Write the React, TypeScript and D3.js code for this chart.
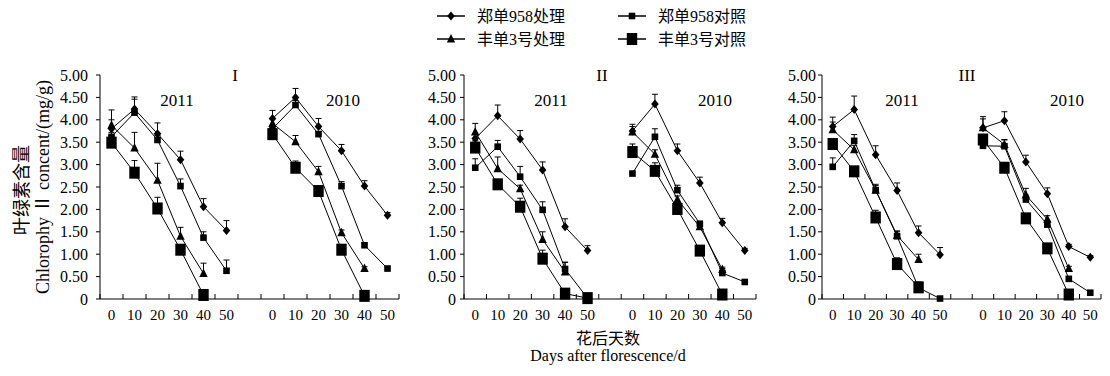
import React from "react";
import * as d3 from "d3";

// ---------- data ----------
const days = ["0", "10", "20", "30", "40", "50"];
const years = ["2011", "2010"];
const panelNames = ["I", "II", "III"];
const seriesNames = ["郑单958处理", "郑单958对照", "丰单3号处理", "丰单3号对照"];
const yTicks = [0, 0.5, 1, 1.5, 2, 2.5, 3, 3.5, 4, 4.5, 5];

// each array: 2011 (0..50 d) then 2010 (0..50 d)
const zdTreat_I = [3.80, 4.24, 3.69, 3.11, 2.06, 1.53, 4.03, 4.50, 3.85, 3.31, 2.52, 1.87];
const zdTreat_I_err = [0.20, 0.27, 0.24, 0.19, 0.18, 0.22, 0.18, 0.20, 0.18, 0.14, 0.12, 0.06];
const zdCtrl_I = [3.62, 4.16, 3.55, 2.52, 1.37, 0.63, 3.80, 4.33, 3.68, 2.52, 1.20, 0.68];
const zdCtrl_I_err = [0.10, 0.30, 0.10, 0.16, 0.13, 0.24, 0.05, 0.10, 0.06, 0.10, 0.03, 0.04];
const fdTreat_I = [3.88, 3.37, 2.65, 1.40, 0.57, null, 3.92, 3.51, 2.84, 1.48, 0.68, null];
const fdTreat_I_err = [0.34, 0.35, 0.38, 0.20, 0.23, null, 0.10, 0.14, 0.12, 0.06, 0.04, null];
const fdCtrl_I = [3.49, 2.82, 2.02, 1.10, 0.09, null, 3.68, 2.93, 2.41, 1.10, 0.07, null];
const fdCtrl_I_err = [0.15, 0.27, 0.25, 0.10, 0.10, null, 0.10, 0.15, 0.05, 0.05, 0.03, null];

const zdTreat_II = [3.58, 4.09, 3.57, 2.88, 1.61, 1.08, 3.75, 4.35, 3.31, 2.59, 1.70, 1.08];
const zdTreat_II_err = [0.10, 0.24, 0.19, 0.18, 0.18, 0.11, 0.10, 0.22, 0.15, 0.13, 0.10, 0.05];
const zdCtrl_II = [2.93, 3.40, 2.73, 1.99, 0.67, 0.02, 2.80, 3.62, 2.43, 1.68, 0.58, 0.38];
const zdCtrl_II_err = [0.20, 0.14, 0.23, 0.18, 0.15, 0.02, 0.03, 0.18, 0.11, 0.05, 0.10, 0.03];
const fdTreat_II = [3.73, 2.91, 2.46, 1.33, 0.60, null, 3.73, 3.23, 2.22, 1.61, 0.66, null];
const fdTreat_II_err = [0.19, 0.26, 0.08, 0.17, 0.22, null, 0.17, 0.10, 0.08, 0.06, 0.05, null];
const fdCtrl_II = [3.38, 2.56, 2.06, 0.90, 0.12, 0.02, 3.28, 2.86, 2.01, 1.08, 0.10, null];
const fdCtrl_II_err = [0.15, 0.05, 0.19, 0.19, 0.08, 0.02, 0.18, 0.18, 0.06, 0.05, 0.05, null];

const zdTreat_III = [3.85, 4.23, 3.22, 2.42, 1.48, 0.99, 3.82, 3.98, 3.06, 2.35, 1.17, 0.93];
const zdTreat_III_err = [0.10, 0.30, 0.20, 0.17, 0.15, 0.16, 0.20, 0.20, 0.15, 0.13, 0.05, 0.04];
const zdCtrl_III = [2.95, 3.53, 2.43, 1.40, 0.25, 0.01, 3.42, 3.41, 2.22, 1.66, 0.45, 0.14];
const zdCtrl_III_err = [0.20, 0.14, 0.13, 0.10, 0.10, 0.02, 0.10, 0.15, 0.10, 0.08, 0.05, 0.04];
const fdTreat_III = [3.78, 3.33, 2.43, 1.42, 0.88, null, 3.82, 3.45, 2.32, 1.78, 0.68, null];
const fdTreat_III_err = [0.28, 0.10, 0.10, 0.10, 0.12, null, 0.25, 0.10, 0.15, 0.08, 0.05, null];
const fdCtrl_III = [3.46, 2.85, 1.82, 0.78, 0.26, null, 3.56, 2.93, 1.80, 1.13, 0.10, null];
const fdCtrl_III_err = [0.12, 0.10, 0.16, 0.14, 0.12, null, 0.10, 0.10, 0.05, 0.05, 0.03, null];

const panelValues = [
  [zdTreat_I, zdCtrl_I, fdTreat_I, fdCtrl_I],
  [zdTreat_II, zdCtrl_II, fdTreat_II, fdCtrl_II],
  [zdTreat_III, zdCtrl_III, fdTreat_III, fdCtrl_III],
];
const panelErrors = [
  [zdTreat_I_err, zdCtrl_I_err, fdTreat_I_err, fdCtrl_I_err],
  [zdTreat_II_err, zdCtrl_II_err, fdTreat_II_err, fdCtrl_II_err],
  [zdTreat_III_err, zdCtrl_III_err, fdTreat_III_err, fdCtrl_III_err],
];

// ---------- layout ----------
const W = 1110;
const H = 376;
const yTop = 75;
const yBottom = 299;
const panelX = [
  { x0: 100, x1: 399, gap: 12, title: 235, y11: 177, y10: 343 },
  { x0: 464, x1: 756, gap: 8, title: 602, y11: 551, y10: 715 },
  { x0: 822, x1: 1101, gap: 6, title: 967, y11: 902, y10: 1067 },
];
const SERIF = '"Liberation Serif", "Times New Roman", "Noto Sans CJK SC", serif';

const categories = [
  ...days.map((d) => "2011-" + d),
  "gap",
  ...days.map((d) => "2010-" + d),
];

function Marker({ kind, x, y }: { kind: number; x: number; y: number }) {
  if (kind === 0) {
    return (
      <path d={`M${x},${y - 4.5}L${x + 3.8},${y}L${x},${y + 4.5}L${x - 3.8},${y}Z`} fill="#000" />
    );
  }
  if (kind === 1) {
    return <rect x={x - 3.3} y={y - 3.3} width={6.6} height={6.6} fill="#000" />;
  }
  if (kind === 2) {
    return <path d={`M${x},${y - 5}L${x + 4.2},${y + 3.5}L${x - 4.2},${y + 3.5}Z`} fill="#000" />;
  }
  return <rect x={x - 5.2} y={y - 6} width={10.4} height={12} fill="#000" />;
}

function Panel({ p }: { p: number }) {
  const L = panelX[p];
  const x = d3.scaleBand<string>().domain(categories).range([L.x0, L.x1]).padding(0);
  const y = d3.scaleLinear().domain([0, 5]).range([yBottom, yTop]);
  const bw = x.bandwidth();
  const cx = (i: number) => {
    const key = i < 6 ? "2011-" + days[i] : "2010-" + days[i - 6];
    return (x(key) as number) + bw / 2;
  };
  const line = d3
    .line<{ i: number; v: number }>()
    .x((d) => cx(d.i))
    .y((d) => y(d.v));

  const boundaries = categories.map((c) => x(c) as number).concat([L.x1]);

  return (
    <g>
      {/* y axis */}
      <line x1={L.x0} x2={L.x0} y1={yTop} y2={yBottom} stroke="#000" strokeWidth={1} />
      {yTicks.map((t) => (
        <g key={t}>
          <line x1={L.x0 - 4} x2={L.x0} y1={y(t)} y2={y(t)} stroke="#000" />
          <text
            x={L.x0 - L.gap}
            y={y(t)}
            textAnchor="end"
            dominantBaseline="central"
            fontSize={16}
            fontFamily={SERIF}
          >
            {t === 0 ? "0" : d3.format(".2f")(t)}
          </text>
        </g>
      ))}
      {/* x axis */}
      <line x1={L.x0} x2={L.x1} y1={yBottom} y2={yBottom} stroke="#000" />
      {boundaries.map((b, i) => (
        <line key={i} x1={b} x2={b} y1={yBottom} y2={yBottom - 5} stroke="#000" />
      ))}
      {categories.map((c) =>
        c === "gap" ? null : (
          <text
            key={c}
            x={(x(c) as number) + bw / 2}
            y={320}
            textAnchor="middle"
            fontSize={15}
            fontFamily={SERIF}
          >
            {c.split("-")[1]}
          </text>
        )
      )}
      {/* titles */}
      <text x={L.title} y={81} textAnchor="middle" fontSize={17} fontFamily={SERIF}>
        {panelNames[p]}
      </text>
      <text x={L.y11} y={106} textAnchor="middle" fontSize={17} fontFamily={SERIF}>
        {years[0]}
      </text>
      <text x={L.y10} y={106} textAnchor="middle" fontSize={17} fontFamily={SERIF}>
        {years[1]}
      </text>
      {/* series */}
      {panelValues[p].map((vals, s) => {
        const errs = panelErrors[p][s];
        const segs = [0, 6].map((start) =>
          vals
            .slice(start, start + 6)
            .map((v, k) => ({ i: start + k, v: v as number }))
            .filter((d) => d.v !== null && d.v !== undefined)
        );
        return (
          <g key={s}>
            {segs.map((seg, k) => (
              <path key={k} d={line(seg) || ""} fill="none" stroke="#000" strokeWidth={1} />
            ))}
            {vals.map((v, i) =>
              v === null ? null : (
                <g key={i}>
                  {errs[i] ? (
                    <g>
                      <line
                        x1={cx(i)}
                        x2={cx(i)}
                        y1={y(v)}
                        y2={y(v + (errs[i] as number))}
                        stroke="#000"
                      />
                      <line
                        x1={cx(i) - 3}
                        x2={cx(i) + 3}
                        y1={y(v + (errs[i] as number))}
                        y2={y(v + (errs[i] as number))}
                        stroke="#000"
                      />
                    </g>
                  ) : null}
                  <Marker kind={s} x={cx(i)} y={y(v)} />
                </g>
              )
            )}
          </g>
        );
      })}
    </g>
  );
}

function Legend() {
  const items = [
    { s: 0, x: 437, y: 16 },
    { s: 1, x: 618, y: 16 },
    { s: 2, x: 437, y: 39 },
    { s: 3, x: 618, y: 39 },
  ];
  return (
    <g>
      {items.map((it) => (
        <g key={it.s}>
          <line x1={it.x} x2={it.x + 28} y1={it.y} y2={it.y} stroke="#000" strokeWidth={1.5} />
          <Marker kind={it.s} x={it.x + 14} y={it.y} />
          <text
            x={it.x + 40}
            y={it.y}
            dominantBaseline="central"
            fontSize={16}
            fontFamily={SERIF}
          >
            {seriesNames[it.s]}
          </text>
        </g>
      ))}
    </g>
  );
}

export default function App() {
  return (
    <svg
      width={W}
      height={H}
      style={{ position: "absolute", left: 0, top: 0, background: "#fff" }}
    >
      <rect width={W} height={H} fill="#fff" />
      <Legend />
      {[0, 1, 2].map((p) => (
        <Panel key={p} p={p} />
      ))}
      <text
        transform="translate(22,190) rotate(-90)"
        textAnchor="middle"
        dominantBaseline="central"
        fontSize={18}
        fontFamily={SERIF}
      >
        叶绿素含量
      </text>
      <text
        transform="translate(43,187) rotate(-90)"
        textAnchor="middle"
        dominantBaseline="central"
        fontSize={18}
        fontFamily={SERIF}
      >
        Chlorophy Ⅱ concent/(mg/g)
      </text>
      <text x={608} y={344} textAnchor="middle" fontSize={16} fontFamily={SERIF}>
        花后天数
      </text>
      <text x={608} y={361} textAnchor="middle" fontSize={16} fontFamily={SERIF}>
        Days after florescence/d
      </text>
    </svg>
  );
}
